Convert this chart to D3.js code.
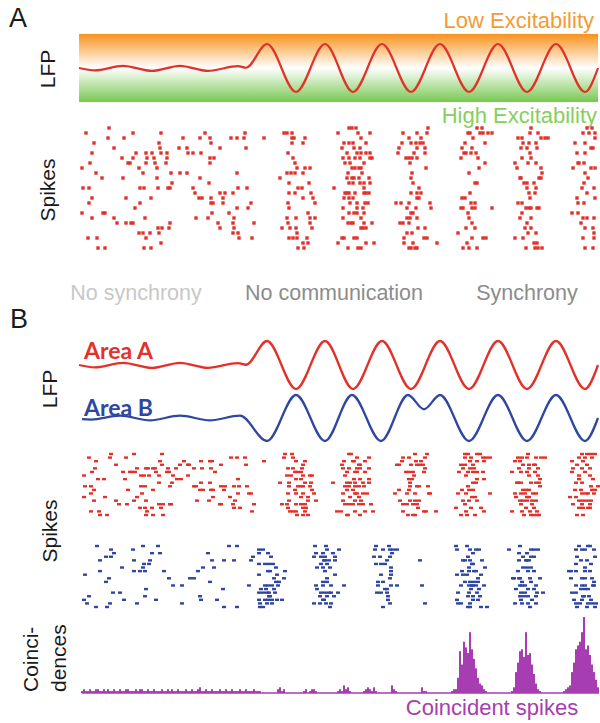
<!DOCTYPE html>
<html>
<head>
<meta charset="utf-8">
<script src="https://cdn.jsdelivr.net/npm/d3@7"></script>
<style>
  body { margin: 0; background: #fff; }
  svg text { font-family: "Liberation Sans", Arial, sans-serif; }
</style>
</head>
<body>
<div id="svgDiv" style="width:600px;height:723px"></div>
<script>
// ---- data (time in ms, trial index, LFP in normalised units) ----

// LFP extrema, panel A and area A in panel B
var lfpT  = [0, 16, 44, 73, 101, 129, 159, 167, 188, 217, 246, 274, 303, 332, 361, 390, 419, 448, 477, 506, 519];
var lfpA  = [0, -0.1, 0.09, -0.12, 0.09, -0.12, 0.08, 0.01, 1, -1, 1, -1, 1, -1, 1, -1, 1, -1, 1, -1, 0];
// LFP extrema, area B
var lfpBT = [3, 12, 41, 71, 101, 131, 161, 188, 217, 246, 273, 302, 329, 345, 361, 390, 419, 448, 477, 506, 519];
var lfpB  = [-0.05, -0.07, 0.1, -0.1, 0.1, -0.1, 0.1, -1, 1, -1, 1, -1, 1, 0.38, 1, -1, 1, -1, 1, -1, 0];

// spikes panel A [time, trial]
var spikesA = [
 [30,0],[7,1],[54,1],[82,1],[126,1],[29,2],[45,2],[15,3],[13,5],[35,4],[57,5],[67,5],[73,5],[80,3],[81,4],
 [82,5],[88,5],[104,2],[100,4],[108,4],[109,5],[114,5],[121,2],[122,5],[131,2],[132,3],[141,4],[152,2],[158,2],
 [166,1],[165,2],[167,4],[185,2],[11,7],[3,8],[43,6],[49,7],[51,7],[54,6],[60,8],[64,9],[68,6],[67,7],[75,6],
 [76,7],[88,6],[87,7],[78,8],[92,9],[108,9],[101,9],[131,6],[131,7],[135,6],[17,9],[23,10],[44,10],[78,10],
 [93,11],[121,10],[130,11],[158,9],[4,12],[10,12],[61,12],[65,12],[79,12],[89,12],[91,12],[114,12],[116,13],
 [120,14],[123,14],[132,14],[132,15],[141,13],[146,13],[154,13],[159,12],[168,12],[144,14],[144,15],[13,14],
 [10,15],[47,14],[72,14],[61,15],[56,16],[134,15],[172,15],[158,16],[169,16],[150,17],[3,17],[24,17],[26,17],
 [35,18],[13,18],[52,19],[54,19],[66,18],[117,18],[129,18],[133,17],[155,18],[154,19],[38,19],[47,19],[79,20],
 [83,20],[91,19],[90,20],[139,19],[141,20],[175,19],[64,21],[60,21],[71,21],[80,21],[154,21],[155,20],[159,21],
 [160,22],[173,22],[9,22],[18,22],[67,22],[82,23],[19,24],[26,24],[65,24],[72,24],
 [208,1],[213,1],[215,2],[205,1],[213,2],[213,3],[209,5],[214,6],[216,7],[218,8],[212,9],[208,9],[216,9],
 [201,10],[210,11],[219,12],[210,13],[216,13],[209,15],[210,16],[208,18],[217,18],[209,19],[203,20],[211,20],
 [217,20],[218,21],[210,22],[214,22],[218,22],[219,24],[226,2],[224,3],[226,8],[231,8],[224,9],[230,11],
 [223,12],[232,13],[234,14],[224,14],[236,15],[229,17],[231,18],[236,18],[231,19],[233,20],[228,22],[229,23],
 [224,23],[225,24],
 [270,0],[273,0],[277,0],[259,1],[279,1],[291,1],[282,2],[265,3],[270,3],[274,3],[287,3],[263,4],[281,4],
 [282,5],[275,4],[268,5],[278,5],[287,5],[291,5],[293,6],[264,6],[281,6],[266,7],[271,7],[270,6],[276,6],
 [291,6],[285,7],[276,8],[280,8],[269,9],[273,8],[282,8],[283,9],[268,10],[273,10],[275,10],[280,10],[290,10],
 [270,11],[274,11],[281,11],[285,11],[291,11],[255,12],[285,12],[266,13],[268,13],[270,13],[276,13],[285,13],
 [287,13],[290,13],[265,14],[270,14],[274,14],[278,15],[286,15],[289,15],[271,15],[264,16],[278,16],[284,16],
 [285,17],[264,18],[270,17],[275,17],[278,17],[282,18],[269,19],[272,19],[274,19],[285,19],[293,19],[284,20],
 [282,20],[287,20],[263,22],[265,22],[275,22],[278,22],[259,23],[295,23],[287,23],[269,24],[279,24],[282,24],
 [349,0],[338,1],[324,1],[348,1],[330,2],[342,2],[323,3],[332,3],[337,3],[341,3],[344,3],[320,4],[319,5],
 [338,4],[346,4],[335,5],[346,5],[327,6],[338,6],[330,6],[333,6],[331,7],[347,8],[333,9],[332,10],[334,11],
 [340,12],[338,13],[342,13],[332,13],[338,14],[340,14],[322,15],[317,15],[330,15],[337,16],[351,15],[352,16],
 [328,16],[332,17],[328,18],[331,18],[334,17],[338,18],[321,19],[330,19],[324,19],[339,20],[345,22],[328,21],
 [333,21],[325,22],[325,23],[334,23],[332,24],[336,24],[338,24],[330,24],[348,22],[358,23],[346,20],
 [398,0],[403,0],[389,1],[401,1],[409,1],[413,1],[391,1],[404,1],[394,2],[386,3],[406,3],[383,4],[393,4],
 [385,5],[387,5],[392,5],[397,5],[399,6],[382,6],[406,7],[400,8],[390,9],[396,11],[398,11],[391,13],[383,14],
 [386,14],[392,15],[396,15],[382,16],[384,16],[393,16],[396,16],[413,16],[389,17],[390,18],[393,19],[379,21],
 [387,20],[396,20],[393,22],[407,22],[404,22],[388,23],[384,24],[390,24],[398,24],
 [452,0],[439,2],[443,2],[451,1],[459,1],[462,2],[466,2],[469,2],[444,3],[450,3],[457,3],[442,4],[448,4],
 [458,4],[451,5],[443,6],[452,6],[449,7],[436,7],[457,7],[462,8],[438,8],[441,10],[442,10],[445,11],[448,11],
 [455,11],[463,9],[462,10],[460,10],[448,12],[457,12],[450,13],[456,13],[451,14],[439,15],[443,15],[447,16],
 [450,16],[452,16],[458,16],[460,16],[443,17],[441,18],[452,18],[448,19],[446,20],[452,20],[457,21],[449,21],
 [436,22],[444,22],[455,23],[458,23],[459,24],[463,24],[447,24],[456,24],
 [508,0],[513,0],[516,1],[504,1],[510,1],[516,2],[496,3],[506,3],[512,4],[514,4],[498,5],[506,5],[499,7],
 [500,7],[505,7],[494,8],[512,8],[516,8],[506,9],[509,10],[505,11],[503,12],[508,13],[515,12],[498,14],
 [499,15],[505,15],[516,14],[493,17],[499,17],[504,18],[508,18],[515,18],[502,19],[506,20],[514,20],[515,21],
 [504,22],[515,22],[506,24],[514,24]
];

// spikes panel B, area A (red) [time, trial]
var spikesBA = [
 [10,1],[32,0],[47,1],[55,0],[83,0],[31,1],[17,2],[16,4],[37,3],[58,4],[44,5],[51,5],[53,5],[56,5],[67,4],
 [69,4],[74,4],[76,4],[81,2],[83,3],[89,4],[90,5],[97,4],[101,3],[105,2],[109,3],[110,3],[115,4],[122,2],
 [123,4],[131,2],[133,2],[132,4],[136,5],[142,3],[152,1],[158,1],[166,1],[167,3],[185,2],[13,5],[5,6],[19,7],
 [25,7],[46,7],[62,6],[65,6],[70,6],[77,5],[80,6],[88,5],[94,6],[98,7],[102,7],[109,6],[93,8],[80,8],[62,9],
 [66,9],[91,9],[6,9],[12,9],[115,9],[117,9],[122,8],[131,8],[121,10],[124,10],[132,10],[134,10],[142,9],
 [146,9],[145,10],[155,9],[159,7],[160,9],[168,9],[172,11],[170,11],[159,11],[151,12],[15,10],[12,11],[49,10],
 [74,10],[63,11],[58,12],[134,12],[5,12],[15,13],[26,12],[37,13],[40,14],[48,14],[55,13],[67,13],[91,14],
 [92,14],[118,13],[130,13],[141,14],[142,14],[156,13],[154,14],[155,15],[161,15],[175,14],[173,16],[12,16],
 [20,16],[61,15],[66,15],[68,16],[73,15],[80,14],[84,14],[82,15],[21,17],[28,17],[67,17],[74,17],[84,17],
 [206,0],[213,0],[214,1],[205,1],[217,2],[209,4],[214,4],[216,5],[218,5],[212,6],[217,7],[208,6],[201,8],
 [210,8],[219,9],[210,9],[216,10],[217,11],[209,11],[210,13],[208,14],[217,14],[209,15],[203,14],[211,16],
 [217,16],[218,17],[214,16],[226,2],[224,3],[223,4],[222,5],[224,6],[231,6],[233,6],[222,7],[226,8],[232,8],
 [222,9],[224,9],[231,9],[233,10],[235,11],[224,11],[229,12],[222,12],[229,13],[237,13],[226,14],[222,14],
 [227,15],[224,15],[226,16],[224,17],[229,17],
 [270,0],[272,0],[278,1],[290,1],[265,2],[263,3],[274,2],[275,2],[280,3],[286,2],[281,3],[264,4],[270,4],
 [278,4],[281,4],[290,4],[268,5],[276,5],[278,5],[286,5],[266,6],[275,7],[281,7],[290,7],[268,8],[276,8],
 [271,8],[284,8],[290,8],[254,8],[266,9],[270,9],[276,9],[280,9],[285,9],[268,10],[274,10],[276,11],[278,11],
 [288,11],[264,11],[280,12],[284,11],[271,12],[264,13],[276,13],[282,13],[266,14],[270,14],[274,14],[284,14],
 [292,14],[280,14],[262,16],[276,16],[286,16],[258,16],[294,16],[269,17],[281,17],[268,17],
 [348,0],[336,0],[324,1],[346,1],[330,1],[342,2],[323,2],[332,3],[337,2],[341,3],[344,3],[320,3],[318,3],
 [338,3],[346,4],[330,5],[334,5],[345,5],[327,5],[335,6],[330,7],[333,7],[331,8],[338,9],[340,9],[331,9],
 [349,9],[320,10],[316,11],[330,10],[336,11],[351,11],[350,11],[328,11],[331,13],[336,13],[340,13],[321,13],
 [328,14],[334,14],[338,14],[324,14],[339,15],[345,16],[347,16],[324,16],[329,17],[334,17],[336,17],[357,16],
 [386,0],[389,0],[398,0],[401,0],[386,1],[392,1],[404,1],[407,1],[411,1],[391,2],[398,2],[382,3],[386,3],
 [394,3],[405,2],[384,4],[391,4],[395,4],[380,5],[389,5],[394,5],[398,5],[404,5],[387,6],[398,7],[405,7],
 [394,8],[397,8],[389,9],[383,10],[390,10],[394,10],[379,11],[387,11],[393,12],[396,12],[411,11],[384,13],
 [390,13],[398,13],[377,15],[386,14],[392,15],[402,15],[405,16],[388,17],[382,17],[396,17],[387,16],
 [449,0],[439,1],[443,1],[448,1],[457,1],[462,1],[466,1],[441,2],[436,2],[444,3],[450,3],[455,3],[456,3],
 [440,4],[450,4],[459,4],[448,5],[456,5],[433,5],[442,5],[450,6],[459,6],[461,7],[460,8],[439,8],[438,8],
 [442,8],[452,8],[457,8],[461,9],[444,10],[450,10],[436,11],[442,11],[447,10],[454,11],[446,11],[448,12],
 [450,12],[457,11],[437,12],[441,13],[444,13],[448,13],[453,13],[457,13],[442,14],[453,14],[455,15],[447,15],
 [458,16],[433,16],[443,16],[451,16],[445,17],[455,17],[458,17],[460,17],[452,17],
 [503,0],[508,0],[512,0],[516,0],[500,1],[506,1],[513,1],[493,2],[504,2],[508,3],[498,3],[494,4],[503,4],
 [511,4],[493,5],[500,6],[506,5],[511,6],[500,7],[514,7],[497,8],[503,8],[512,9],[519,9],[496,10],[502,10],
 [507,11],[513,10],[516,10],[491,12],[497,12],[503,11],[509,11],[515,11],[500,13],[504,13],[508,13],[512,13],
 [494,14],[503,14],[511,14],[500,15],[504,15],[509,15],[511,15],[498,17],[504,17]
];

// spikes panel B, area B (blue) [time, trial]
var spikesBB = [
 [18,0],[32,1],[35,2],[27,3],[32,3],[54,1],[64,0],[79,0],[73,2],[81,2],[55,4],[71,4],[70,5],[65,5],[64,6],
 [43,6],[21,4],[6,8],[21,7],[55,7],[61,7],[66,7],[85,7],[30,9],[27,10],[90,9],[94,11],[103,11],[111,9],
 [115,9],[119,7],[124,6],[129,2],[133,4],[135,6],[145,4],[155,4],[150,0],[158,0],[172,4],[174,3],[131,10],
 [144,12],[170,11],[34,13],[41,13],[67,12],[10,14],[5,15],[8,16],[17,17],[28,17],[31,16],[45,15],[58,16],
 [66,14],[77,15],[103,16],[121,14],[122,15],[138,15],[145,17],[158,17],
 [184,1],[180,1],[189,2],[192,3],[180,2],[190,5],[186,5],[180,5],[194,5],[197,6],[191,7],[189,7],[206,7],
 [198,8],[180,8],[195,9],[197,10],[205,9],[200,10],[186,11],[189,11],[193,11],[182,12],[187,12],[195,12],
 [199,11],[188,13],[190,13],[180,13],[184,13],[191,14],[196,13],[186,15],[190,14],[193,15],[180,15],[189,15],
 [198,15],[203,15],[181,16],[188,16],[193,16],[181,17],[184,17],
 [236,0],[247,0],[260,1],[248,1],[244,2],[254,2],[256,3],[235,3],[242,3],[246,3],[245,4],[237,2],[250,4],
 [246,4],[242,5],[256,4],[248,5],[238,6],[244,6],[251,6],[246,7],[256,8],[248,9],[248,10],[237,11],[244,10],
 [252,11],[265,11],[238,12],[244,11],[242,13],[250,13],[252,13],[246,13],[259,13],[255,14],[241,14],[244,15],
 [248,14],[245,15],[235,16],[241,16],[247,16],[252,16],[251,17],
 [297,0],[310,0],[314,1],[296,1],[304,1],[311,1],[318,1],[313,2],[295,3],[301,3],[311,3],[308,4],[297,5],
 [302,5],[306,5],[312,6],[312,7],[302,8],[312,8],[311,9],[299,10],[304,10],[299,11],[306,12],[308,12],[308,13],
 [298,13],[302,13],[309,14],[318,11],[312,11],[309,15],[311,16],[304,17],[341,4],[343,11],[346,16],
 [377,0],[388,0],[400,1],[391,1],[397,1],[378,1],[394,2],[389,3],[386,4],[384,4],[403,4],[391,4],[393,5],
 [390,6],[394,5],[406,6],[383,7],[390,7],[395,7],[397,7],[378,8],[384,8],[388,8],[402,8],[399,9],[391,10],
 [395,10],[386,10],[399,10],[394,11],[397,11],[382,11],[390,11],[393,11],[405,11],[400,12],[392,12],[379,13],
 [390,13],[398,13],[401,14],[394,14],[378,15],[389,14],[394,15],[399,15],[382,16],[379,16],[391,16],[389,17],
 [391,17],[402,17],[408,17],
 [441,0],[430,1],[440,2],[448,2],[452,1],[455,1],[459,1],[444,3],[447,4],[452,3],[455,3],[440,4],[448,4],
 [450,4],[444,6],[448,6],[452,6],[449,7],[455,7],[439,7],[434,9],[441,9],[440,9],[451,9],[461,9],[435,9],
 [443,10],[452,10],[443,11],[446,11],[457,11],[441,11],[449,12],[455,12],[437,12],[442,13],[446,13],[458,13],
 [464,13],[445,14],[441,14],[449,14],[457,14],[442,15],[453,15],[436,16],[443,16],[449,16],[451,17],[457,16],
 [500,0],[511,0],[509,0],[503,1],[515,1],[497,1],[506,1],[516,3],[498,3],[508,4],[502,4],[497,5],[512,5],
 [490,7],[492,7],[497,7],[506,6],[506,7],[511,7],[492,9],[506,9],[503,9],[513,9],[515,10],[497,11],[503,11],
 [506,11],[515,11],[502,12],[509,12],[514,11],[506,12],[493,13],[497,13],[504,14],[505,14],[510,14],[495,15],
 [503,15],[512,15],[497,16],[501,16],[509,16],[513,16],[517,16],[498,17],[508,17],[516,17]
];

// coincident spike counts, 2 ms bins starting at t = 0
var coincBins = [
 0,1,2,1,1,2,1,1,2,2,1,1,2,1,2,1,1,2,1,1,
 2,1,1,2,2,1,1,1,2,1,2,2,1,1,2,1,1,2,1,1,
 1,2,1,1,2,1,2,1,1,2,1,1,1,2,1,1,2,1,1,2,
 3,1,1,2,1,1,2,1,1,1,2,1,1,2,1,1,2,1,1,1,
 2,1,1,2,1,1,1,2,1,1,1,0,0,0,0,0,0,0,0,2,
 3,1,2,0,0,0,0,0,0,0,0,0,1,2,0,1,2,2,1,0,
 0,0,0,0,0,0,0,0,0,1,2,1,4,2,3,1,0,0,0,0,
 0,0,1,2,3,2,1,3,1,0,0,0,0,0,0,0,4,2,1,0,
 0,0,0,0,0,0,0,0,0,0,0,3,1,1,0,0,0,0,0,0,
 0,0,0,0,0,0,1,2,2,8,22,15,27,24,21,32,23,18,13,8,
 5,4,2,1,0,0,0,0,0,0,0,0,0,0,0,0,1,3,11,16,
 22,23,19,32,20,21,15,10,5,2,1,0,0,0,0,0,0,0,0,0,
 0,0,1,2,3,4,11,16,23,25,27,32,40,23,25,20,15,11,7,3
];
var binWidth = 2;

var stateLabels = ["No synchrony", "No communication", "Synchrony"];
var stateColors = ["#c8c8c8", "#8c8c8c", "#8c8c8c"];
var stateCenters = [57, 255, 448];   // in ms

// ---- globals ----
var svg, tScale;
var red = "#e2312a", blue = "#2f47a0", purple = "#a63db1";

document.addEventListener('DOMContentLoaded', function(){
    svg = d3.select("#svgDiv")
        .append("svg")
        .attr("width", 600)
        .attr("height", 723);

    tScale = d3.scaleLinear()
        .domain([0, 520])
        .range([79, 599]);

    drawPanelA();
    drawPanelB();
});

function axisLabel(txt, x, y, anchor){
    svg.append("text")
        .attr("transform", "translate(" + x + "," + y + ") rotate(-90)")
        .attr("text-anchor", anchor || "middle")
        .style("font-size", "21px")
        .attr("fill", "#1a1a1a")
        .text(txt);
}

function lfpLine(ts, vs, yScale, color, width){
    var line = d3.line()
        .x(d => tScale(d[0]))
        .y(d => yScale(d[1]))
        .curve(d3.curveMonotoneX);
    svg.append("path")
        .datum(d3.zip(ts, vs))
        .attr("d", line)
        .attr("fill", "none")
        .attr("stroke", color)
        .attr("stroke-width", width);
}

function raster(data, yScale, color, w, h, cls){
    svg.selectAll("rect." + cls)
        .data(data)
        .enter().append("rect")
        .attr("class", cls)
        .attr("x", d => tScale(d[0]) - w / 2)
        .attr("y", d => yScale(d[1]) - h / 2)
        .attr("width", w)
        .attr("height", h)
        .attr("fill", color);
}

function drawPanelA(){
    svg.append("text")
        .attr("x", 9).attr("y", 27)
        .style("font-size", "27px")
        .attr("fill", "#1a1a1a")
        .text("A");

    // excitability gradient
    var grad = svg.append("defs").append("linearGradient")
        .attr("id", "excit")
        .attr("x1", 0).attr("y1", 0).attr("x2", 0).attr("y2", 1);
    grad.append("stop").attr("offset", 0).attr("stop-color", "#f7931e");
    grad.append("stop").attr("offset", 0.5).attr("stop-color", "#ffffff");
    grad.append("stop").attr("offset", 1).attr("stop-color", "#78c850");

    var yLfp = d3.scaleLinear().domain([-1, 1]).range([92, 44]);

    svg.append("rect")
        .attr("x", tScale(0))
        .attr("y", yLfp(1.42))
        .attr("width", tScale(519) - tScale(0))
        .attr("height", yLfp(-1.42) - yLfp(1.42))
        .attr("fill", "url(#excit)");

    lfpLine(lfpT, lfpA, yLfp, red, 2.2);

    svg.append("text")
        .attr("x", 594).attr("y", 28)
        .attr("text-anchor", "end")
        .style("font-size", "22px")
        .attr("fill", "#f39b35")
        .text("Low Excitability");
    svg.append("text")
        .attr("x", 597).attr("y", 123)
        .attr("text-anchor", "end")
        .style("font-size", "22px")
        .attr("fill", "#86cf5c")
        .text("High Excitability");

    axisLabel("LFP", 55, 69);
    axisLabel("Spikes", 55, 190);

    var yA = d3.scaleLinear().domain([0, 24]).range([128, 248]);
    raster(spikesA, yA, red, 3.4, 3.4, "spkA");
}

function drawPanelB(){
    // state labels
    svg.selectAll("text.state")
        .data(stateLabels)
        .enter().append("text")
        .attr("class", "state")
        .attr("x", (d, i) => tScale(stateCenters[i]))
        .attr("y", 300)
        .attr("text-anchor", "middle")
        .style("font-size", "21.5px")
        .attr("fill", (d, i) => stateColors[i])
        .text(d => d);

    svg.append("text")
        .attr("x", 10).attr("y", 328)
        .style("font-size", "27px")
        .attr("fill", "#1a1a1a")
        .text("B");

    var yRed = d3.scaleLinear().domain([-1, 1]).range([389, 341]);
    var yBlue = d3.scaleLinear().domain([-1, 1]).range([441, 395]);
    lfpLine(lfpT, lfpA, yRed, red, 2.3);
    lfpLine(lfpBT, lfpB, yBlue, blue, 2.3);

    svg.append("text")
        .attr("x", 84).attr("y", 359)
        .style("font-family", "Lato, 'Open Sans', sans-serif")
        .style("font-weight", "bold")
        .style("font-size", "23px")
        .attr("fill", red)
        .text("Area A");
    svg.append("text")
        .attr("x", 84).attr("y", 416)
        .style("font-family", "Lato, 'Open Sans', sans-serif")
        .style("font-weight", "bold")
        .style("font-size", "23px")
        .attr("fill", blue)
        .text("Area B");

    axisLabel("LFP", 57, 389);
    axisLabel("Spikes", 57, 531);

    var yR = d3.scaleLinear().domain([0, 17]).range([454, 515]);
    var yB = d3.scaleLinear().domain([0, 17]).range([546, 607]);
    raster(spikesBA, yR, red, 4, 2.4, "spkBA");
    raster(spikesBB, yB, blue, 4, 2.4, "spkBB");

    // coincidences histogram
    var yC = d3.scaleLinear().domain([0, 40]).range([693, 617]);
    var bins = coincBins.map((c, i) => ({t: i * binWidth, c: c}));
    svg.selectAll("rect.coinc")
        .data(bins.filter(d => d.c > 0))
        .enter().append("rect")
        .attr("class", "coinc")
        .attr("x", d => tScale(d.t))
        .attr("y", d => yC(d.c))
        .attr("width", tScale(binWidth) - tScale(0))
        .attr("height", d => yC(0) - yC(d.c))
        .attr("fill", purple);
    svg.append("line")
        .attr("x1", tScale(3)).attr("x2", tScale(520))
        .attr("y1", yC(0)).attr("y2", yC(0))
        .attr("stroke", purple)
        .attr("stroke-width", 1.5);

    axisLabel("Coinci-", 38, 692, "start");
    axisLabel("dences", 66, 692, "start");

    svg.append("text")
        .attr("x", 492).attr("y", 715)
        .attr("text-anchor", "middle")
        .style("font-size", "22px")
        .attr("fill", purple)
        .text("Coincident spikes");
}
</script>
</body>
</html>
